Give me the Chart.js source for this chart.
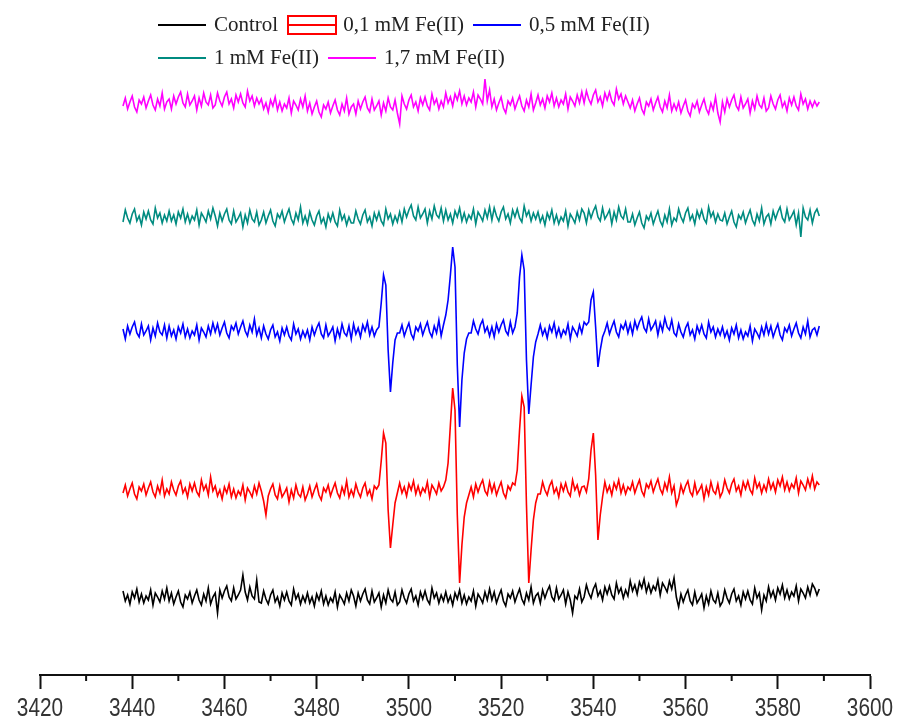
<!DOCTYPE html>
<html>
<head>
<meta charset="utf-8">
<script src="https://cdn.jsdelivr.net/npm/chart.js@4.4.1/dist/chart.umd.min.js"></script>
<style>
  body { margin: 0; background: #fff; }
  #wrap { position: relative; width: 901px; height: 719px; }
  #legend {
    position: absolute; left: 158px; top: 8px;
    font-family: 'Liberation Serif', 'Times New Roman', serif;
    font-size: 21px; color: #222;
  }
  .row { display: flex; align-items: center; height: 33px; white-space: nowrap; }
  .item { display: flex; align-items: center; margin-right: 9px; }
  .swatch { width: 48px; height: 0; border-top: 2px solid; margin-right: 8px; }
  .box { width: 50px; height: 20px; border: 2px solid; box-sizing: border-box; margin-right: 6px; position: relative; }
  .box span { position: absolute; left: 0; right: 0; top: 7px; border-top: 2px solid; }
</style>
</head>
<body>
<div id="wrap">
  <canvas id="epr" width="901" height="719"></canvas>
  <div id="legend"></div>
</div>
<script>
// magnetic field sweep (G)
const fieldStart = 3438;
const fieldStep = 0.5;
const axisTicks = [3420, 3440, 3460, 3480, 3500, 3520, 3540, 3560, 3580, 3600];
const minorTicks = [3430, 3450, 3470, 3490, 3510, 3530, 3550, 3570, 3590];

const seriesNames = ['Control', '0,1 mM Fe(II)', '0,5 mM Fe(II)', '1 mM Fe(II)', '1,7 mM Fe(II)'];
const seriesColors = ['#000000', '#ff0000', '#0000ff', '#008b80', '#ff00ff'];

// signal values (stacked traces, arbitrary units)
const control = [
  84,74,80,71,83,77,86,73,81,72,79,75,85,70,82,78,73,84,76,87,
  74,82,71,78,84,73,68,80,76,83,72,79,85,75,70,81,74,87,71,78,
  82,62,85,77,84,89,78,74,87,76,80,85,100,83,75,88,79,76,95,73,
  72,84,76,71,80,85,73,78,69,82,75,83,74,70,86,76,81,71,79,73,
  82,72,78,69,81,75,84,71,79,70,77,73,83,68,80,76,71,82,74,85,
  79,69,82,74,81,86,75,71,84,73,77,82,68,80,72,85,76,73,83,70,
  73,85,77,72,81,86,74,79,70,83,76,84,75,71,87,77,82,72,80,74,
  83,73,79,70,82,76,85,72,80,71,78,74,84,69,81,77,72,83,75,86,
  75,83,72,79,85,74,69,81,77,84,73,80,86,76,71,82,75,88,72,79,
  82,72,85,77,84,89,78,74,87,76,80,85,71,83,75,62,79,76,86,73,
  78,90,82,77,86,91,79,84,75,88,81,89,80,76,92,82,87,77,85,79,
  94,84,90,81,93,87,96,83,91,82,89,85,95,80,92,88,83,94,86,97,
  78,68,81,73,80,85,74,70,83,72,76,81,67,79,71,84,75,72,82,69,
  73,85,77,72,81,86,74,79,70,83,76,84,75,71,87,77,82,65,80,74,
  88,78,84,75,87,81,90,77,85,76,83,79,89,74,86,82,77,88,80,91,
  87,80,86
];
const fe01 = [
  182,190,179,186,192,181,176,188,184,191,180,187,193,183,178,189,182,195,179,186,
  181,193,185,180,189,194,182,187,178,191,184,192,183,179,195,185,190,180,198,184,
  189,179,185,176,188,182,191,178,186,177,184,180,190,175,187,183,178,189,181,192,
  184,174,160,179,186,191,180,176,189,178,182,187,173,185,177,190,181,178,188,175,
  181,189,178,185,191,180,175,187,183,190,179,186,192,182,177,188,181,194,178,185,
  179,191,183,178,187,192,180,185,176,189,186,190,214,242,232,165,127,150,172,182,
  192,182,188,179,191,185,194,181,189,180,187,183,193,178,190,186,181,192,184,188,
  195,212,250,287,265,160,92,130,158,172,180,188,178,191,183,190,195,184,180,193,
  183,191,180,187,193,182,177,189,185,192,190,205,245,279,268,170,92,125,155,172,
  181,181,193,185,180,189,194,182,187,178,191,184,192,183,179,195,185,190,180,188,
  189,183,196,225,242,200,135,160,178,193,183,189,180,192,186,195,182,190,181,188,
  185,193,182,189,195,184,179,191,187,194,183,190,196,186,181,192,185,198,182,189,
  170,177,190,182,189,194,183,179,192,181,185,190,176,188,180,193,184,181,191,178,
  183,195,187,182,191,196,184,189,180,193,186,194,185,181,197,187,192,182,190,184,
  196,186,192,183,195,189,198,185,193,184,191,187,197,182,194,190,185,196,188,199,
  186,193,190
];
const fe05 = [
  346,336,349,341,348,353,342,338,351,340,344,349,335,347,339,352,343,340,350,337,
  349,339,345,336,348,342,351,338,346,337,344,340,350,335,347,343,338,349,341,352,
  343,351,340,347,353,342,337,349,345,352,341,348,354,344,339,350,343,356,340,347,
  337,349,341,336,345,350,338,343,334,347,340,348,339,335,351,341,346,336,344,338,
  345,335,348,340,347,352,341,337,350,339,343,348,334,346,338,351,342,339,349,336,
  351,341,347,338,350,344,353,340,348,339,345,348,372,400,390,325,283,312,335,342,
  342,350,339,346,352,341,336,348,344,351,340,347,353,343,338,349,342,355,339,350,
  360,375,400,428,408,310,248,295,322,336,342,342,354,346,341,350,355,343,348,339,
  348,338,351,343,350,355,344,340,353,342,348,362,398,420,405,315,261,290,318,333,
  341,350,340,346,337,349,343,352,339,347,338,345,341,351,336,348,344,339,350,342,
  353,350,353,375,383,348,308,325,338,344,352,341,348,354,343,338,350,346,353,342,
  351,341,354,346,353,358,347,343,356,345,349,354,340,352,344,357,348,345,355,342,
  339,351,343,338,347,352,340,345,336,349,342,350,341,337,353,343,348,338,346,340,
  348,338,344,335,347,341,350,337,345,336,343,339,349,334,346,342,337,348,340,351,
  341,349,338,345,351,340,335,347,343,350,339,346,352,342,337,348,341,354,338,345,
  347,340,349
];
const fe1 = [
  453,465,457,452,461,466,454,459,450,463,456,464,455,451,467,457,462,452,460,454,
  464,454,460,451,463,457,466,453,461,452,459,455,465,450,462,458,453,464,456,467,
  459,449,462,454,461,466,455,451,464,453,457,462,448,460,452,465,456,453,463,450,
  455,463,452,459,465,454,449,461,457,464,453,460,466,456,451,462,455,468,452,459,
  451,463,455,450,459,464,452,457,448,461,454,462,453,449,465,455,460,450,458,452,
  452,464,456,451,460,465,453,458,449,462,455,463,454,450,466,456,461,451,459,453,
  463,453,466,458,465,470,459,455,468,457,461,466,452,464,456,469,460,457,467,454,
  465,455,461,452,464,458,467,454,462,453,460,456,466,451,463,459,454,465,457,468,
  455,467,459,454,463,468,456,461,452,465,458,466,457,453,469,459,464,454,462,456,
  463,453,459,450,462,456,465,452,460,451,458,454,464,449,461,457,452,463,455,466,
  462,452,465,457,464,469,458,454,467,456,460,465,451,463,455,468,459,456,466,453,
  453,461,450,457,463,452,447,459,455,462,451,458,464,454,449,460,453,466,450,457,
  454,466,458,453,462,467,455,460,451,464,457,465,456,452,468,458,463,453,461,455,
  454,462,451,458,464,453,448,460,456,463,452,459,465,455,450,461,454,467,451,458,
  461,451,464,456,463,468,457,453,466,455,459,464,450,462,438,467,458,455,465,452,
  462,466,459
];
const fe17 = [
  569,577,566,573,579,568,563,575,571,578,567,574,580,570,565,576,569,582,566,573,
  576,566,579,571,578,583,572,568,581,570,574,579,565,577,569,582,573,570,580,567,
  570,582,574,569,578,583,571,576,567,580,573,581,572,568,584,574,579,569,577,571,
  576,566,572,563,575,569,578,565,573,564,571,567,577,562,574,570,565,576,568,579,
  564,572,561,568,574,563,558,570,566,573,562,569,575,565,560,571,564,577,561,568,
  571,561,574,566,573,578,567,563,576,565,569,574,560,572,564,577,568,565,575,562,
  551,579,571,566,575,580,568,573,564,577,570,578,569,565,581,571,576,566,574,568,
  582,572,578,569,581,575,584,571,579,570,577,573,583,568,580,576,571,596,574,585,
  568,576,565,572,578,567,562,574,570,577,566,573,579,569,564,575,568,581,565,572,
  580,570,576,567,579,573,582,569,577,568,575,571,581,566,578,574,569,580,572,583,
  572,584,576,571,580,585,573,578,569,582,575,583,574,570,586,576,581,571,579,573,
  567,575,564,571,577,566,561,573,569,576,565,572,578,568,563,574,567,580,564,571,
  565,573,562,569,575,564,559,571,567,574,563,570,576,566,561,572,565,578,562,553,
  573,563,576,568,575,580,569,565,578,567,571,576,562,574,566,579,570,567,577,564,
  567,579,571,566,575,580,568,573,564,577,570,578,569,565,581,571,576,566,574,568,
  574,569,573
];

const seriesValues = [control, fe01, fe05, fe1, fe17];
const fields = control.map((_, i) => fieldStart + i * fieldStep);

// legend in two rows like the original figure
const legendRows = [[0, 1, 2], [3, 4]];
const legendEl = document.getElementById('legend');
legendRows.forEach((row) => {
  const rowEl = document.createElement('div');
  rowEl.className = 'row';
  row.forEach((k) => {
    const item = document.createElement('div');
    item.className = 'item';
    const icon = document.createElement('div');
    if (k === 1) {
      icon.className = 'box';
      icon.style.borderColor = seriesColors[k];
      const mid = document.createElement('span');
      mid.style.borderColor = seriesColors[k];
      icon.appendChild(mid);
    } else {
      icon.className = 'swatch';
      icon.style.borderColor = seriesColors[k];
    }
    const label = document.createElement('span');
    label.textContent = seriesNames[k];
    item.appendChild(icon);
    item.appendChild(label);
    rowEl.appendChild(item);
  });
  legendEl.appendChild(rowEl);
});

// short unlabeled ticks + condensed tick labels under the axis
const axisDecor = {
  id: 'axisDecor',
  afterDraw(chart) {
    const xs = chart.scales.x;
    const c = chart.ctx;
    c.save();
    c.strokeStyle = '#111';
    c.lineWidth = 2;
    minorTicks.forEach((v) => {
      const px = xs.getPixelForValue(v);
      c.beginPath();
      c.moveTo(px, xs.top);
      c.lineTo(px, xs.top + 6);
      c.stroke();
    });
    c.fillStyle = '#333';
    c.font = '26px "Liberation Sans", Arial, sans-serif';
    c.textAlign = 'center';
    c.textBaseline = 'alphabetic';
    axisTicks.forEach((v) => {
      const px = xs.getPixelForValue(v);
      c.save();
      c.translate(px, 716);
      c.scale(0.8, 1);
      c.fillText(String(v), 0, 0);
      c.restore();
    });
    c.restore();
  },
};

const ctx = document.getElementById('epr').getContext('2d');
new Chart(ctx, {
  type: 'line',
  data: {
    labels: fields,
    datasets: seriesValues.map((vals, k) => ({
      label: seriesNames[k],
      data: vals,
      borderColor: seriesColors[k],
      backgroundColor: seriesColors[k],
    })),
  },
  options: {
    responsive: false,
    animation: false,
    layout: { padding: { left: 40, right: 31, top: 75, bottom: 30 } },
    plugins: { legend: { display: false }, tooltip: { enabled: false } },
    elements: {
      point: { radius: 0 },
      line: { borderWidth: 1.6, tension: 0 },
    },
    scales: {
      x: {
        type: 'linear',
        min: axisTicks[0],
        max: axisTicks[axisTicks.length - 1],
        afterBuildTicks: (scale) => { scale.ticks = axisTicks.map((v) => ({ value: v })); },
        border: { display: true, width: 2, color: '#111' },
        grid: { display: true, drawOnChartArea: false, drawTicks: true, tickLength: 14, tickWidth: 2, tickColor: '#111' },
        ticks: { display: false },
      },
      y: { display: false, min: 0, max: 600 },
    },
  },
  plugins: [axisDecor],
});
</script>
</body>
</html>
